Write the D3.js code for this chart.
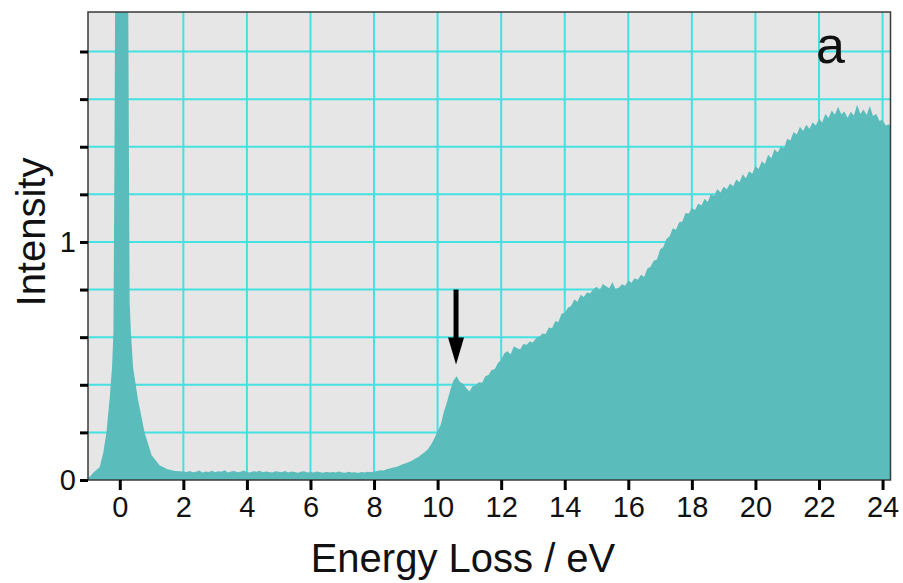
<!DOCTYPE html>
<html>
<head>
<meta charset="utf-8">
<script src="https://cdn.jsdelivr.net/npm/d3@7"></script>
<style>
  html, body { margin: 0; padding: 0; background: #fff; }
  svg { display: block; font-family: "Liberation Sans", Arial, sans-serif; }
</style>
</head>
<body>
<svg id="chart" width="903" height="583"></svg>
<script>
// Zero-loss peak, sampled unevenly around 0 eV
const zlpEnergy = [-1.00, -0.90, -0.84, -0.75, -0.63, -0.52, -0.42, -0.32, -0.245, -0.20, -0.17, -0.13,
                   0.00, 0.12, 0.25, 0.29, 0.31, 0.35, 0.42, 0.57, 0.78, 1.00, 1.25, 1.50, 1.75];
const zlpIntensity = [0.008, 0.020, 0.030, 0.040, 0.055, 0.115, 0.200, 0.340, 0.470, 0.620, 1.300, 2.500,
                      4.000, 3.200, 2.500, 1.300, 0.750, 0.620, 0.470, 0.340, 0.200, 0.105, 0.062, 0.045, 0.038];

// Energy-loss region, channels every 0.1 eV from 2.0 eV
const lossStart = 2.0;
const lossStep = 0.1;
const lossIntensity = [
  0.036, 0.034, 0.038, 0.033, 0.035, 0.040, 0.032, 0.036, 0.034, 0.039, // 2
  0.033, 0.037, 0.035, 0.041, 0.032, 0.036, 0.038, 0.033, 0.035, 0.040, // 3
  0.034, 0.032, 0.037, 0.035, 0.039, 0.033, 0.036, 0.034, 0.031, 0.037, // 4
  0.035, 0.033, 0.038, 0.032, 0.036, 0.034, 0.030, 0.035, 0.037, 0.032, // 5
  0.034, 0.031, 0.036, 0.033, 0.030, 0.035, 0.032, 0.034, 0.031, 0.036, // 6
  0.032, 0.030, 0.035, 0.031, 0.033, 0.029, 0.034, 0.032, 0.035, 0.033, // 7
  0.036, 0.038, 0.041, 0.040, 0.045, 0.048, 0.052, 0.055, 0.060, 0.066, // 8
  0.070, 0.076, 0.082, 0.090, 0.097, 0.108, 0.118, 0.130, 0.150, 0.175, // 9
  0.205, 0.232, 0.288, 0.330, 0.378, 0.418, 0.436, 0.412, 0.404, 0.386, // 10
  0.372, 0.394, 0.398, 0.411, 0.409, 0.436, 0.441, 0.462, 0.466, 0.492, // 11
  0.505, 0.532, 0.541, 0.528, 0.562, 0.553, 0.549, 0.571, 0.568, 0.582, // 12
  0.578, 0.596, 0.602, 0.615, 0.613, 0.641, 0.638, 0.667, 0.664, 0.698, // 13
  0.702, 0.724, 0.731, 0.758, 0.749, 0.778, 0.769, 0.788, 0.785, 0.801, // 14
  0.812, 0.797, 0.823, 0.814, 0.806, 0.831, 0.801, 0.808, 0.822, 0.816, // 15
  0.838, 0.829, 0.847, 0.841, 0.862, 0.853, 0.889, 0.896, 0.921, 0.926, // 16
  0.968, 0.979, 1.012, 1.024, 1.058, 1.051, 1.083, 1.086, 1.122, 1.118, // 17
  1.143, 1.134, 1.162, 1.153, 1.181, 1.168, 1.201, 1.193, 1.222, 1.208, // 18
  1.232, 1.221, 1.246, 1.234, 1.262, 1.251, 1.284, 1.268, 1.297, 1.286, // 19
  1.318, 1.306, 1.339, 1.327, 1.366, 1.352, 1.389, 1.376, 1.401, 1.394, // 20
  1.434, 1.426, 1.462, 1.451, 1.484, 1.466, 1.492, 1.476, 1.503, 1.489, // 21
  1.518, 1.502, 1.537, 1.521, 1.552, 1.534, 1.568, 1.536, 1.548, 1.522, // 22
  1.547, 1.531, 1.576, 1.538, 1.556, 1.533, 1.571, 1.529, 1.538, 1.509, // 23
  1.512, 1.489, 1.494, 1.476                                            // 24
];

const xTickValues = [0, 2, 4, 6, 8, 10, 12, 14, 16, 18, 20, 22, 24];
const yLabelValues = [0, 1];
const yTickValues = [0, 0.2, 0.4, 0.6, 0.8, 1.0, 1.2, 1.4, 1.6, 1.8];

// Arrow marking the feature near 10.6 eV: [energy, tail intensity, tip intensity]
const arrowMark = [10.58, 0.80, 0.485];
const panelLabel = "a";

const svg = d3.select("#chart");
const plot = { left: 88, right: 890.5, top: 12, bottom: 480 };

const x = d3.scaleLinear().domain([-1, 24.25]).range([plot.left, plot.right]);
const y = d3.scaleLinear().domain([0, 1.966]).range([plot.bottom, plot.top]);

const spectrum = zlpEnergy.map((e, i) => [e, zlpIntensity[i]])
  .concat(lossIntensity.map((v, i) => [lossStart + i * lossStep, v]));

// plot background
svg.append("rect")
  .attr("x", plot.left).attr("y", plot.top)
  .attr("width", plot.right - plot.left).attr("height", plot.bottom - plot.top)
  .attr("fill", "#e6e6e6");

svg.append("clipPath").attr("id", "plotClip")
  .append("rect")
  .attr("x", plot.left).attr("y", plot.top)
  .attr("width", plot.right - plot.left).attr("height", plot.bottom - plot.top);

// grid
const grid = svg.append("g").attr("clip-path", "url(#plotClip)");
grid.selectAll("line.gx").data(xTickValues).join("line")
  .attr("class", "gx")
  .attr("x1", d => x(d)).attr("x2", d => x(d))
  .attr("y1", plot.top).attr("y2", plot.bottom)
  .attr("stroke", "#45e0e0").attr("stroke-width", 2);
grid.selectAll("line.gy").data(yTickValues.filter(d => d > 0)).join("line")
  .attr("class", "gy")
  .attr("x1", plot.left).attr("x2", plot.right)
  .attr("y1", d => y(d)).attr("y2", d => y(d))
  .attr("stroke", "#45e0e0").attr("stroke-width", 2);

// spectrum
const area = d3.area()
  .x(d => x(d[0]))
  .y0(y(0))
  .y1(d => y(d[1]))
  .curve(d3.curveLinear);

svg.append("g").attr("clip-path", "url(#plotClip)")
  .append("path")
  .datum(spectrum)
  .attr("d", area)
  .attr("fill", "#5bbcbc");

// frame
svg.append("rect")
  .attr("x", plot.left).attr("y", plot.top)
  .attr("width", plot.right - plot.left).attr("height", plot.bottom - plot.top)
  .attr("fill", "none").attr("stroke", "#3a3a3a").attr("stroke-width", 1.5);

// x axis
const xAxis = d3.axisBottom(x).tickValues(xTickValues).tickSize(10).tickPadding(6)
  .tickFormat(d3.format("d"));
const gx = svg.append("g").attr("transform", `translate(0,${plot.bottom})`).call(xAxis);
gx.select(".domain").remove();
gx.selectAll(".tick line").attr("stroke", "#000").attr("stroke-width", 3);
gx.selectAll(".tick text").attr("font-size", 29).attr("fill", "#111")
  .attr("font-family", "'Liberation Sans', Arial, sans-serif");

// y axis: ticks every 0.2, labels at 0 and 1
const yAxis = d3.axisLeft(y).tickValues(yTickValues).tickSize(8).tickPadding(4)
  .tickFormat(d => yLabelValues.includes(d) ? d3.format("d")(d) : "");
const gy = svg.append("g").attr("transform", `translate(${plot.left},0)`).call(yAxis);
gy.select(".domain").remove();
gy.selectAll(".tick line").attr("stroke", "#000").attr("stroke-width", 3);
gy.selectAll(".tick text").attr("font-size", 29).attr("fill", "#111")
  .attr("font-family", "'Liberation Sans', Arial, sans-serif");

// axis titles
svg.append("text")
  .attr("x", 463).attr("y", 572)
  .attr("text-anchor", "middle")
  .attr("font-size", 40).attr("fill", "#111")
  .text("Energy Loss / eV");

svg.append("text")
  .attr("transform", "translate(45,232) rotate(-90)")
  .attr("text-anchor", "middle")
  .attr("font-size", 40).attr("fill", "#111")
  .text("Intensity");

// panel label
svg.append("text")
  .attr("x", 816).attr("y", 63)
  .attr("font-size", 52).attr("fill", "#111")
  .text(panelLabel);

// arrow
const ax = x(arrowMark[0]);
const tailY = y(arrowMark[1]);
const tipY = y(arrowMark[2]);
const headLen = 27, headHalf = 8;
svg.append("line")
  .attr("x1", ax).attr("x2", ax)
  .attr("y1", tailY).attr("y2", tipY - headLen + 2)
  .attr("stroke", "#000").attr("stroke-width", 5);
svg.append("path")
  .attr("d", `M${ax - headHalf},${tipY - headLen} L${ax + headHalf},${tipY - headLen} L${ax},${tipY} Z`)
  .attr("fill", "#000");
</script>
</body>
</html>
